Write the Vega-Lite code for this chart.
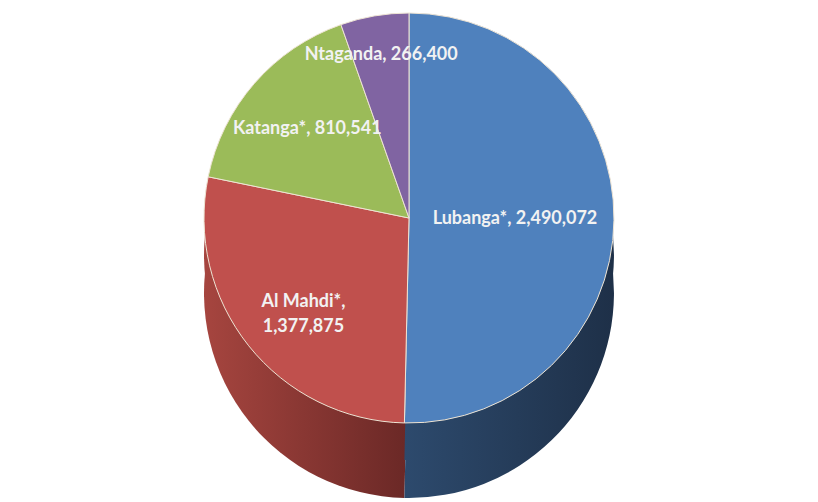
{
  "$schema": "https://vega.github.io/schema/vega-lite/v6.json",
  "width": 818,
  "height": 502,
  "autosize": {"type": "fit", "contains": "padding"},
  "padding": 0,
  "background": "white",
  "config": {"view": {"stroke": null}},
  "data": {
    "values": [
      {"name": "Lubanga*", "value": 2490072, "label": "Lubanga*, 2,490,072"},
      {"name": "Al Mahdi*", "value": 1377875, "label": "Al Mahdi*,\n1,377,875"},
      {"name": "Katanga*", "value": 810541, "label": "Katanga*, 810,541"},
      {"name": "Ntaganda", "value": 266400, "label": "Ntaganda, 266,400"}
    ]
  },
  "transform": [
    {"stack": "value", "groupby": [], "sort": [{"field": "value", "order": "descending"}], "as": ["v0", "v1"]}
  ],
  "layer": [
    {
      "transform": [{"filter": "datum.name === 'Al Mahdi*'"}],
      "mark": {"type": "arc", "radius": 205, "yOffset": 42,
        "fill": {"gradient": "linear", "x1": 0, "x2": 1, "y1": 0, "y2": 0,
          "stops": [{"offset": 0, "color": "#a6453f"}, {"offset": 1, "color": "#6a2826"}]}},
      "encoding": {
        "theta": {"field": "v0", "type": "quantitative"},
        "theta2": {"field": "v1"}
      }
    },
    {
      "transform": [{"filter": "datum.name === 'Lubanga*'"}],
      "mark": {"type": "arc", "radius": 205, "yOffset": 42,
        "fill": {"gradient": "linear", "x1": 0, "x2": 1, "y1": 0, "y2": 0,
          "stops": [{"offset": 0, "color": "#2d4a6d"}, {"offset": 1, "color": "#1e3048"}]}},
      "encoding": {
        "theta": {"field": "v0", "type": "quantitative"},
        "theta2": {"field": "v1"}
      }
    },
    {
      "transform": [{"filter": "datum.name === 'Al Mahdi*'"}],
      "mark": {"type": "arc", "radius": 205, "yOffset": 4,
        "fill": {"gradient": "linear", "x1": 0, "x2": 1, "y1": 0, "y2": 0,
          "stops": [{"offset": 0, "color": "#a6453f"}, {"offset": 1, "color": "#6a2826"}]}},
      "encoding": {
        "theta": {"field": "v0", "type": "quantitative"},
        "theta2": {"field": "v1"}
      }
    },
    {
      "transform": [{"filter": "datum.name === 'Lubanga*'"}],
      "mark": {"type": "arc", "radius": 205, "yOffset": 4,
        "fill": {"gradient": "linear", "x1": 0, "x2": 1, "y1": 0, "y2": 0,
          "stops": [{"offset": 0, "color": "#2d4a6d"}, {"offset": 1, "color": "#1e3048"}]}},
      "encoding": {
        "theta": {"field": "v0", "type": "quantitative"},
        "theta2": {"field": "v1"}
      }
    },
    {
      "mark": {"type": "arc", "radius": 205, "yOffset": -33, "stroke": "#eee4d4", "strokeWidth": 1},
      "encoding": {
        "theta": {"field": "v0", "type": "quantitative"},
        "theta2": {"field": "v1"},
        "color": {
          "field": "name", "type": "nominal", "legend": null,
          "scale": {"domain": ["Lubanga*", "Al Mahdi*", "Katanga*", "Ntaganda"],
                    "range": ["#4f81bd", "#c0504d", "#9bbb59", "#8064a2"]}
        }
      }
    },
    {
      "mark": {"type": "text", "radius": 106, "yOffset": -33, "font": "Lato", "fontWeight": "bold", "fontSize": 18, "fill": "#f2f2f2", "lineBreak": "\n", "align": "center", "baseline": "middle"},
      "encoding": {
        "theta": {"field": "value", "type": "quantitative", "stack": true},
        "order": {"field": "value", "sort": "descending"},
        "text": {"condition": {"test": "datum.name === 'Lubanga*'", "field": "label"}, "value": ""}
      }
    },
    {
      "mark": {"type": "text", "radius": 135, "yOffset": -33, "font": "Lato", "fontWeight": "bold", "fontSize": 18, "fill": "#f2f2f2", "lineBreak": "\n", "align": "center", "baseline": "middle", "lineHeight": 25},
      "encoding": {
        "theta": {"field": "value", "type": "quantitative", "stack": true},
        "order": {"field": "value", "sort": "descending"},
        "text": {"condition": {"test": "datum.name === 'Al Mahdi*' || datum.name === 'Katanga*'", "field": "label"}, "value": ""}
      }
    },
    {
      "mark": {"type": "text", "radius": 165, "yOffset": -33, "font": "Lato", "fontWeight": "bold", "fontSize": 18, "fill": "#f2f2f2", "lineBreak": "\n", "align": "center", "baseline": "middle"},
      "encoding": {
        "theta": {"field": "value", "type": "quantitative", "stack": true},
        "order": {"field": "value", "sort": "descending"},
        "text": {"condition": {"test": "datum.name === 'Ntaganda'", "field": "label"}, "value": ""}
      }
    }
  ]
}
